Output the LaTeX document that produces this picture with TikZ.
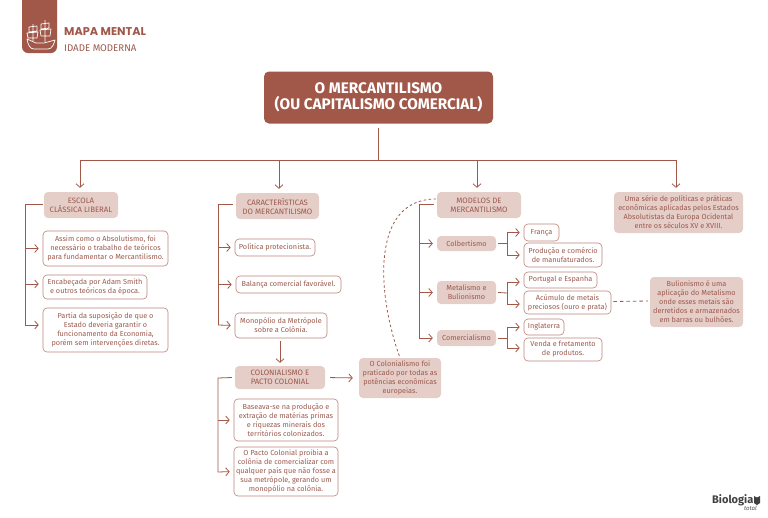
\documentclass[tikz,border=0pt]{standalone}
\usepackage{fontspec}
\setmainfont{Fira Sans}
\newfontfamily\headfont{Poppins}
\usetikzlibrary{calc,arrows.meta}
\definecolor{brownx}{HTML}{A25849}
\definecolor{textx}{HTML}{9C5A4E}
\definecolor{softbg}{HTML}{E5CDC8}
\definecolor{edgex}{HTML}{BC8379}
\tikzset{
  ln/.style={brownx,line width=0.8pt},
  ar/.style={-{Straight Barb[length=3.5pt,width=8pt]},brownx,line width=0.8pt,shorten >=4pt},
  softbox/.style={fill=softbg,rounded corners=4pt,align=center,text=textx,inner sep=0pt,font=\fontsize{7.3}{9}\selectfont},
  headbox/.style={softbox,font=\fontsize{7.8}{9}\selectfont},
  box/.style={draw=edgex,line width=0.6pt,fill=white,rounded corners=4pt,align=center,text=textx,inner sep=0pt,font=\fontsize{7.3}{9}\selectfont}
}
\begin{document}
\begin{tikzpicture}[x=1pt,y=-1pt]
\useasboundingbox (0,0) rectangle (768,517);
% header
\fill[brownx] (22,0) -- (57,0) -- (57,47) arc (0:90:6) -- (28,53) arc (90:180:6) -- cycle;
\draw[white,line width=0.7pt,line join=round] (27,39) .. controls (28,45) and (30,49) .. (34,49) -- (48,49) .. controls (52,49) and (54,44) .. (55,40) -- (44,43) -- (36,43) -- cycle;
\draw[white,line width=0.7pt,line join=round] (33,24) -- (33,41) (45,20) -- (45,42) (29,27) -- (37,26) -- (37,31) -- (29,32) -- cycle (27,33) -- (38,32) -- (37,38) -- (28,38) -- cycle (41,24) -- (49,23) -- (49,28) -- (41,29) -- cycle (40,30) -- (51,29) -- (50,36) -- (41,36) -- cycle;
\node[anchor=west,text=brownx,font=\headfont\fontsize{11.3}{13}\bfseries\selectfont,inner sep=0pt] (mapa) at (64,32) {MAPA MENTAL};
\node[anchor=west,text=textx,font=\fontsize{9.7}{11}\selectfont,inner sep=0pt] (idade) at (64,48) {IDADE MODERNA};
\node[fill=brownx,rounded corners=5pt,minimum width=229,minimum height=52,align=center,text=white,inner sep=0pt,font=\fontsize{15.3}{16.5}\bfseries\selectfont] (title) at (378.5,97.5) {O MERCANTILISMO\\(OU CAPITALISMO COMERCIAL)};
\coordinate (top) at (378.5,160);
\draw[ln] ($(title.south)+(0,4)$) -- (top);
% first column
\node[headbox,minimum width=74,minimum height=26] (escola) at (81,205) {ESCOLA\\CLÁSSICA LIBERAL};
\node[box,minimum width=125,minimum height=35] (assim) at (105.5,248.5) {Assim como o Absolutismo, foi\\necessário o trabalho de teóricos\\para fundamentar o Mercantilismo.};
\node[box,minimum width=104,minimum height=24] (enc) at (95,287) {Encabeçada por Adam Smith\\e outros teóricos da época.};
\node[box,minimum width=125,minimum height=44] (partia) at (105.5,330) {Partia da suposição de que o\\Estado deveria garantir o\\funcionamento da Economia,\\porém sem intervenções diretas.};
% second column
\node[headbox,minimum width=83,minimum height=26] (carac) at (277.5,206) {CARACTERÍSTICAS\\DO MERCANTILISMO};
\node[box,minimum width=80,minimum height=17] (pol) at (275,247.5) {Política protecionista.};
\node[box,minimum width=105,minimum height=17] (bal) at (288.5,284.5) {Balança comercial favorável.};
\node[box,minimum width=92,minimum height=25] (mono) at (281,325.5) {Monopólio da Metrópole\\sobre a Colônia.};
\node[headbox,minimum width=90,minimum height=23] (colo) at (280,377.5) {COLONIALISMO E\\PACTO COLONIAL};
\node[box,minimum width=104,minimum height=42] (base) at (286,420) {Baseava-se na produção e\\extração de matérias primas\\e riquezas minerais dos\\territórios colonizados.};
\node[box,minimum width=104,minimum height=49] (pacto) at (286,471.5) {O Pacto Colonial proibia a\\colônia de comercializar com\\qualquer país que não fosse a\\sua metrópole, gerando um\\monopólio na colônia.};
\node[softbox,minimum width=82,minimum height=40] (note) at (400,378) {O Colonialismo foi\\praticado por todas as\\potências econômicas\\europeias.};
% third column
\node[headbox,minimum width=84,minimum height=26] (modelos) at (479,205) {MODELOS DE\\MERCANTILISMO};
\node[softbox,minimum width=59,minimum height=15] (colb) at (466.5,243.5) {Colbertismo};
\node[softbox,minimum width=59,minimum height=23] (metal) at (466.5,292.5) {Metalismo e\\Bulionismo};
\node[softbox,minimum width=59,minimum height=16] (come) at (466.5,338) {Comercialismo};
\node[box,minimum width=35,minimum height=17] (franca) at (541.5,232.5) {França};
\node[box,minimum width=78,minimum height=24] (prod) at (563,255) {Produção e comércio\\de manufaturados.};
\node[box,minimum width=73,minimum height=16] (port) at (560.5,280) {Portugal e Espanha};
\node[box,minimum width=87,minimum height=23] (acum) at (567.5,302.5) {Acúmulo de metais\\preciosos (ouro e prata)};
\node[box,minimum width=40,minimum height=16] (ingl) at (544,327) {Inglaterra};
\node[box,minimum width=78,minimum height=23] (venda) at (563,349.5) {Venda e fretamento\\de produtos.};
% right column
\node[softbox,minimum width=129,minimum height=41] (serie) at (678.5,212.5) {Uma série de políticas e práticas\\econômicas aplicadas pelos Estados\\Absolutistas da Europa Ocidental\\entre os séculos XV e XVIII.};
\node[softbox,minimum width=93,minimum height=50] (bul) at (696.5,302) {Bulionismo é uma\\aplicação do Metalismo\\onde esses metais são\\derretidos e armazenados\\em barras ou bulhões.};
% footer
\node[anchor=west,text=black!75,font=\fontsize{11}{12}\bfseries\selectfont,inner sep=0pt] (bio) at (712,500) {Biologia};
\node[anchor=west,text=black!70,font=\fontsize{6}{7}\itshape\selectfont,inner sep=0pt] (total) at (744,508.5) {total};
\fill[black!75] (754,496) -- (757,497.5) -- (760,496) -- (760,503) -- (757,505) -- (754,503) -- cycle;
% top tree
\draw[ar] (top) -| ($(escola.north)+(-1,0)$);
\draw[ar] (top) -| ($(carac.north)+(1.5,0)$);
\draw[ar] (top) -| ($(modelos.north)+(-2,0)$);
\draw[ar] (top) -| ($(serie.north)+(-2.5,0)$);
% brackets
\coordinate (eb) at (25,204);
\draw[ln] ($(escola.west)+(-1,-1)$) -- (eb) -- (25,325);
\draw[ar] (eb |- assim.west) -- (assim.west);
\draw[ar] (25,284) -- ($(enc.west)+(0,-3)$);
\draw[ar] (25,325) -- ($(partia.west)+(0,-5)$);
\coordinate (cb) at (218,204);
\draw[ln] ($(carac.west)+(-3,-2)$) -- (cb) -- (218,325);
\draw[ar] (cb |- pol.west) -- (pol.west);
\draw[ar] (cb |- bal.west) -- (bal.west);
\draw[ar] (218,325) -- (mono.west);
\draw[ar,shorten <=3pt,shorten >=3pt] (280,338) -- (colo.north -| 280,338);
\coordinate (pb) at (218,378);
\draw[ln] ($(colo.west)+(-3,0)$) -- (pb) -- (218,472);
\draw[ar] (pb |- base.west) -- (base.west);
\draw[ar] (218,472) -- (pacto.west);
\draw[ar,shorten <=5pt,shorten >=6pt] (colo.east) -- (note.west);
\coordinate (mb) at (419,204);
\draw[ln] ($(modelos.west)+(-3,-1)$) -- (mb) -- (419,338);
\draw[ar] (mb |- colb.west) -- (colb.west);
\draw[ar] (mb |- metal.west) -- (metal.west);
\draw[ar] (mb |- come.west) -- (come.west);
\coordinate (b1) at (507,243.5);
\draw[ln] ($(colb.east)+(2,0)$) -- (b1);
\draw[ar] (b1) |- (franca.west);
\draw[ar] (b1) |- (prod.west);
\coordinate (b2) at (507,293);
\draw[ln] ($(metal.east)+(2,0)$) -- (b2);
\draw[ar] (b2) |- ($(port.west)+(0,2)$);
\draw[ar] (b2) |- ($(acum.west)+(0,1.5)$);
\coordinate (b3) at (507,338);
\draw[ln] ($(come.east)+(2,0)$) -- (b3);
\draw[ar] (b3) |- (ingl.west);
\draw[ar] (b3) |- ($(venda.west)+(0,-1.5)$);
% dashed links
\draw[ln,dash pattern=on 2.5pt off 2.5pt,shorten <=2pt] (note.north) .. controls (376,290) and (372,199) .. ($(modelos.west)+(-1,-6)$);
\draw[ln,dash pattern=on 3.5pt off 3pt,shorten <=2pt,shorten >=2pt] ($(acum.east)+(0,-1)$) -- ($(bul.west)+(0,-1)$);
\end{tikzpicture}
\end{document}
